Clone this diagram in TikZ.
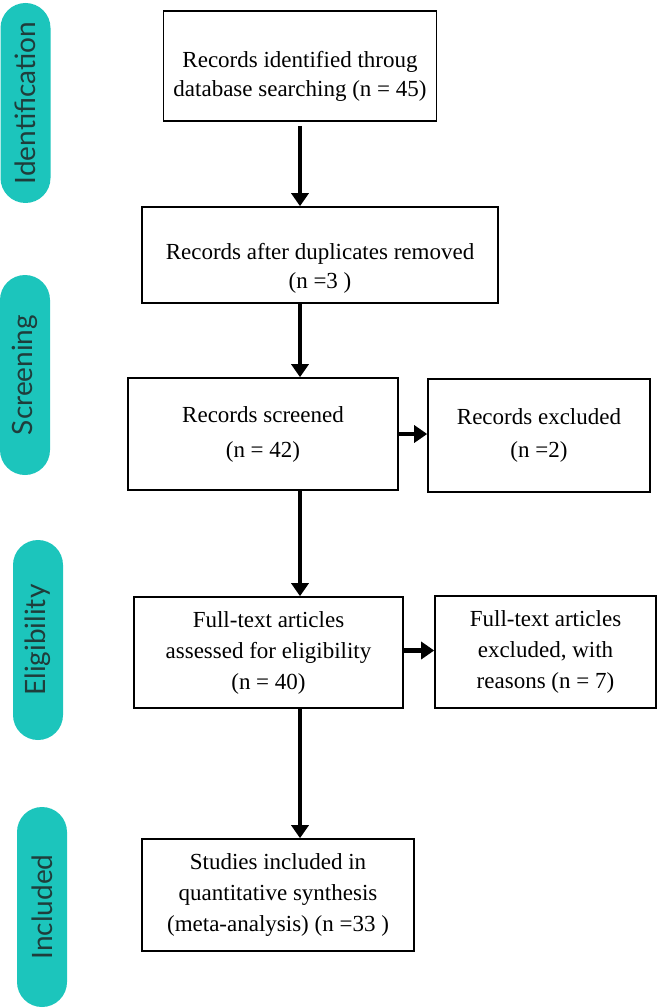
\documentclass[tikz,border=0pt]{standalone}
\usepackage{fontspec}
\setmainfont{Liberation Serif}
\newfontfamily\stagefont{Lato}
\usetikzlibrary{arrows.meta}
\definecolor{stageteal}{HTML}{1CC5BC}
\definecolor{stagetext}{HTML}{1F3D3B}

\begin{document}
\begin{tikzpicture}[x = 1pt, y = -1pt,
		box/.style 2 args = {draw, line width = 1.6pt, minimum width = #1, minimum height = #2, inner sep = 0pt, align = center, font = \fontsize{23}{29}\selectfont},
		tall/.style = {font = \fontsize{23}{31}\selectfont},
		stage/.style = {fill = stageteal, rounded corners = 25pt, minimum width = 200pt, minimum height = 50pt, inner sep = 0pt, rotate = 90, text = stagetext, font = \stagefont\fontsize{28}{28}\selectfont},
		flow/.style = {line width = 4.5pt, -{Triangle[width = 17pt, length = 13pt]}}]
		\useasboundingbox (0,0) rectangle (657,1008);
		\node[stage] (sid) at (25.5,103) {Identification};
		\node[stage] (ssc) at (25,375) {Screening};
		\node[stage] (sel) at (38,640) {Eligibility};
		\node[stage] (sin) at (42,907) {Included};
		\node[box = {273pt}{110pt}] (ident) at (300,66) {\rule{0pt}{37pt}Records identified throug\\database searching (n = 45)};
		\node[box = {356pt}{96pt}] (dup) at (320,255) {\rule{0pt}{42pt}Records after duplicates removed\\(n =3 )};
		\node[box = {270pt}{112pt}] (screen) at (263,434) {Records screened\\[6pt](n = 42)};
		\node[box = {222pt}{113pt}] (excl) at (539,435.5) {Records excluded\\[4pt](n =2)};
		\node[box = {269pt}{111pt}, tall] (full) at (268.5,652.5) {Full-text articles\\assessed for eligibility\\(n = 40)};
		\node[box = {221pt}{112pt}, tall] (fullex) at (545.5,652) {Full-text articles\\excluded, with\\reasons (n = 7)};
		\node[box = {272pt}{112pt}, tall] (incl) at (278,895) {Studies included in\\quantitative synthesis\\(meta-analysis) (n =33 )};
		\draw[flow] ([yshift = -4pt]ident.south) -- (dup.north -| ident);
		\draw[flow] (dup.south -| ident) -- (screen.north -| ident);
		\draw[flow] (screen.south -| ident) -- (full.north -| ident);
		\draw[flow] (full.south -| ident) -- (incl.north -| ident);
		\draw[flow] (screen.east) -- (screen.east -| excl.west);
		\draw[flow] ([yshift = 2pt]full.east) -- ([yshift = 2pt]full.east -| fullex.west);
	\end{tikzpicture}
\end{document}
